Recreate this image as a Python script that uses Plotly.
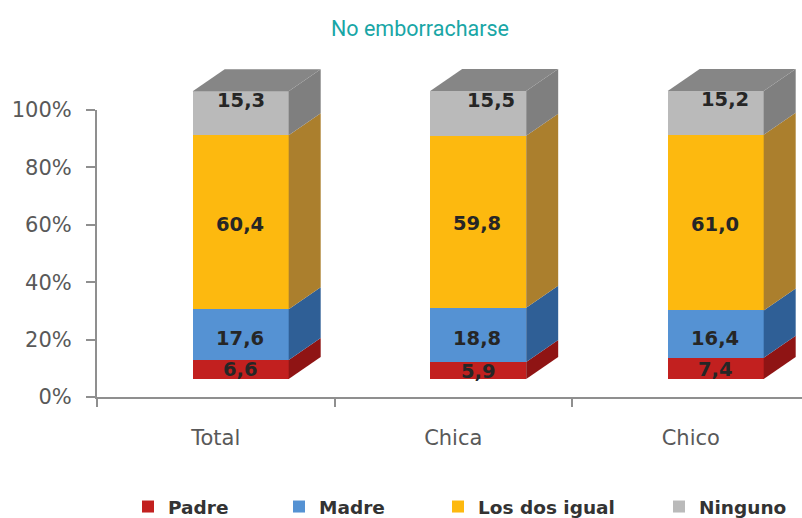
import plotly.graph_objects as go

categories = ["Total", "Chica", "Chico"]
series_names = ["Padre", "Madre", "Los dos igual", "Ninguno"]
padre = [6.6, 5.9, 7.4]
madre = [17.6, 18.8, 16.4]
los_dos = [60.4, 59.8, 61.0]
ninguno = [15.3, 15.5, 15.2]
series_values = [padre, madre, los_dos, ninguno]
y_ticks = [0, 20, 40, 60, 80, 100]
y_tick_labels = ["0%", "20%", "40%", "60%", "80%", "100%"]

front_colors = ["#c2201f", "#5592d3", "#fdb90f", "#bababa"]
side_colors = ["#8f1414", "#2f5f96", "#ab7f2d", "#7f7f7f"]
top_color = "#868686"
text_gray = "#595959"
axis_gray = "#8f8f8f"

# geometry (pixels on the 802x518 canvas)
W, H = 802, 518
left, plot_top, tick_top, zero_px = 97, 50, 110, 397
cat_px = 237.5
bar_base_px, px_per_unit = 379, 2.88
bar_px, depth_x_px, depth_y_px = 96, 32, 22
bar_center = 0.605
dx = depth_x_px / cat_px
dy = depth_y_px / px_per_unit
half = bar_px / cat_px / 2
y2_range = [(bar_base_px - zero_px) / px_per_unit, (bar_base_px - plot_top) / px_per_unit]

# label nudges (pixels) per series, per category
x_nudge = [[0, 0, 0], [-1, -1, -1], [-1, -1, -1], [0, 13, 9]]
y_nudge = [[0, -1, -1], [-4, -4, -4], [-2, -2, -2], [13, 13, 13]]

fig = go.Figure()
xs = [i + bar_center for i in range(len(categories))]
legend_pos = [(128, "legend"), (279, "legend2"), (438, "legend3"), (659, "legend4")]

for s, name in enumerate(series_names):
    fig.add_trace(go.Bar(
        x=xs, y=series_values[s], name=name, width=2 * half,
        marker=dict(color=front_colors[s], line=dict(width=0)),
        yaxis="y2", cliponaxis=False, hoverinfo="skip",
        legend=legend_pos[s][1], showlegend=True,
    ))

# invisible trace so that the visible percent axis is drawn
fig.add_trace(go.Scatter(x=[0, 0], y=[y_ticks[0], y_ticks[-1]], mode="lines",
                         line=dict(width=0), showlegend=False, hoverinfo="skip"))

for i, xc in enumerate(xs):
    xr = xc + half
    xl = xc - half
    base = 0
    for s in range(len(series_names)):
        val = series_values[s][i]
        hi = base + val
        fig.add_trace(go.Scatter(
            x=[xr, xr + dx, xr + dx, xr, xr],
            y=[base, base + dy, hi + dy, hi, base],
            mode="lines", fill="toself", fillcolor=side_colors[s],
            line=dict(width=0), yaxis="y2", cliponaxis=False,
            showlegend=False, hoverinfo="skip",
        ))
        fig.add_annotation(
            x=xc, y=base + val / 2, xref="x", yref="y2", text=f"{val:.1f}".replace(".", ","),
            showarrow=False, xshift=x_nudge[s][i], yshift=y_nudge[s][i],
            font=dict(family="DejaVu Sans", size=19.5, color="#262626", weight=700),
        )
        base = hi
    fig.add_trace(go.Scatter(
        x=[xl, xr, xr + dx, xl + dx, xl],
        y=[base, base, base + dy, base + dy, base],
        mode="lines", fill="toself", fillcolor=top_color,
        line=dict(width=0), yaxis="y2", cliponaxis=False,
        showlegend=False, hoverinfo="skip",
    ))

legend_font = dict(family="DejaVu Sans", size=18.5, color="#333333", weight=700)
legends = {}
for px, key in legend_pos:
    legends[key] = dict(
        x=px / W, y=1 - 507 / H, xanchor="left", yanchor="middle",
        xref="container", yref="container", orientation="h", font=legend_font,
        bgcolor="rgba(0,0,0,0)", itemwidth=30, tracegroupgap=0,
    )

fig.update_layout(
    width=W, height=H, autosize=False,
    margin=dict(l=left, r=0, t=plot_top, b=H - zero_px),
    paper_bgcolor="white", plot_bgcolor="white",
    barmode="stack", bargap=0,
    title=dict(
        text="No emborracharse", x=420 / W, y=1 - 28 / H,
        xanchor="center", yanchor="middle", xref="container", yref="container",
        font=dict(family="Roboto", size=21.5, color="#19a6a6", weight=400),
    ),
    xaxis=dict(
        range=[0, (W - left) / cat_px], tickmode="array",
        tickvals=[i + 0.5 for i in range(len(categories))], ticktext=categories,
        ticks="", showgrid=False, zeroline=False, showline=True,
        linecolor=axis_gray, linewidth=2, ticklabelstandoff=21,
        tickfont=dict(family="DejaVu Sans", size=21, color=text_gray),
        minor=dict(tickmode="array", tickvals=list(range(len(categories))),
                   ticks="outside", ticklen=8, tickwidth=2, tickcolor=axis_gray, showgrid=False),
    ),
    yaxis=dict(
        domain=[0, (zero_px - tick_top) / (zero_px - plot_top)],
        range=[0, 100], tickmode="array", tickvals=y_ticks, ticktext=y_tick_labels,
        ticks="outside", ticklen=9, tickwidth=2, tickcolor=axis_gray,
        showgrid=False, zeroline=False, showline=True, linecolor=axis_gray, linewidth=2,
        ticklabelstandoff=10,
        tickfont=dict(family="DejaVu Sans", size=21, color=text_gray),
    ),
    yaxis2=dict(domain=[0, 1], range=y2_range, anchor="x", visible=False,
                showgrid=False, zeroline=False),
    **legends,
)

fig.write_html("out.html", config={"displayModeBar": False},
               post_script="document.body.style.margin='0';")
